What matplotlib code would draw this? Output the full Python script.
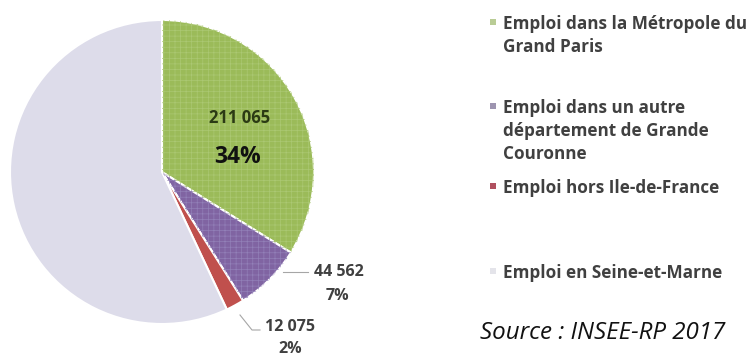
import matplotlib
matplotlib.use("Agg")
import matplotlib.pyplot as plt
from matplotlib.patches import Rectangle

categories = ["Emploi dans la Métropole du\nGrand Paris",
              "Emploi dans un autre\ndépartement de Grande\nCouronne",
              "Emploi hors Ile-de-France",
              "Emploi en Seine-et-Marne"]
values = [211065, 44562, 12075, 355000]
value_labels = ["211 065", "44 562", "12 075", None]
pct_labels = ["34%", "7%", "2%", None]

colors = ["#9BBB59", "#8064A2", "#C0504D", "#DDDCEA"]
hatch_colors = ["#ABC873", "#9280B8", "#C0504D", "#DDDCEA"]
hatches = ["+++", "+++", None, None]

plt.rcParams['hatch.linewidth'] = 0.5
plt.rcParams['font.family'] = ['Open Sans', 'DejaVu Sans']

W, H = 747, 358
fig = plt.figure(figsize=(W / 100, H / 100), dpi=100)

cx, cy, r = 162, 172, 152
ax = fig.add_axes([(cx - r) / W, (H - cy - r) / H, 2 * r / W, 2 * r / H])
wedges, _ = ax.pie(values, colors=colors, startangle=90, counterclock=False,
                   wedgeprops=dict(edgecolor="white", linewidth=1.5))
ax.pie(values, colors=["none"] * 4, startangle=90, counterclock=False,
       wedgeprops=dict(edgecolor="none", linewidth=0))
for w, hc, h in zip(ax.patches[4:], hatch_colors, hatches):
    if h:
        w.set_hatch(h)
        w.set_edgecolor(hc)
        w.set_linewidth(0)
ax.set_xlim(-1, 1)
ax.set_ylim(-1, 1)
ax.set_aspect("equal")
ax.axis("off")

def px(x, y):
    return x / W, 1 - y / H

# data labels
fig.text(*px(240, 118), value_labels[0], ha="center", va="center",
         fontsize=12, fontweight="bold", color="#2B3A14")
fig.text(*px(238, 157), pct_labels[0], ha="center", va="center",
         fontsize=16.5, fontweight="bold", color="#111111")
fig.text(*px(339, 272), value_labels[1], ha="center", va="center",
         fontsize=11.5, fontweight="bold", color="#404040")
fig.text(*px(337, 296), pct_labels[1], ha="center", va="center",
         fontsize=11.5, fontweight="bold", color="#404040")
fig.text(*px(290, 327), value_labels[2], ha="center", va="center",
         fontsize=11.5, fontweight="bold", color="#404040")
fig.text(*px(290, 349), pct_labels[2], ha="center", va="center",
         fontsize=11.5, fontweight="bold", color="#404040")

# leader lines
fig.add_artist(plt.Line2D([283 / W, 308 / W], [1 - 272 / H, 1 - 272 / H],
                          color="#A6A6A6", lw=0.8))
fig.add_artist(plt.Line2D([240 / W, 252 / W, 260 / W],
                          [1 - 315 / H, 1 - 330 / H, 1 - 330 / H],
                          color="#A6A6A6", lw=0.8))

# legend (y = baseline of the last line of each entry, in pixels)
leg_last_baseline = [52, 159, 193, 278]
line_step = 23
marker_colors = ["#B9CC95", "#9D94B0", "#B0505F", "#E4E4EA"]
for cat, yb, mc in zip(categories, leg_last_baseline, marker_colors):
    n = cat.count("\n")
    ym = yb - n * line_step - 7
    fig.add_artist(Rectangle(((493 - 3) / W, 1 - (ym + 3) / H), 6 / W, 6 / H,
                             facecolor=mc, edgecolor="none",
                             transform=fig.transFigure))
    fig.text(503 / W, 1 - yb / H, cat, ha="left", va="baseline",
             fontsize=12.3, fontweight="bold", color="#404040",
             linespacing=1.36)

fig.text(*px(603, 333), "Source : INSEE-RP 2017", ha="center", va="center",
         fontsize=17.4, style="italic", color="#111111")

fig.savefig("out.png", dpi=100)
